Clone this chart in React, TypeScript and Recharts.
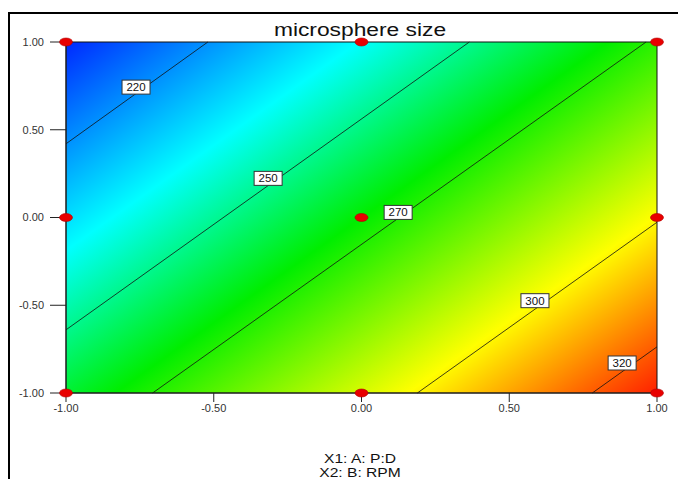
import {
  ComposedChart,
  XAxis,
  YAxis,
  Scatter,
  ReferenceArea,
  ReferenceLine,
  ReferenceDot,
} from "recharts";

// coded factor levels (A: P:D on x, B: RPM on y)
const ticks = [-1, -0.5, 0, 0.5, 1];

// design points of the 3x3 factorial
const designA = [-1, -1, -1, 0, 0, 0, 1, 1, 1];
const designB = [-1, 0, 1, -1, 0, 1, -1, 0, 1];

// contour segments of microsphere size, endpoints in coded units
const contourLevels = [220, 250, 270, 300, 320];
const contourStart = [
  { x: -1, y: 0.42 },
  { x: -1, y: -0.64 },
  { x: -0.707, y: -1 },
  { x: 0.189, y: -1 },
  { x: 0.781, y: -1 },
];
const contourEnd = [
  { x: -0.52, y: 1 },
  { x: 0.365, y: 1 },
  { x: 0.963, y: 1 },
  { x: 1, y: -0.027 },
  { x: 1, y: -0.737 },
];
const labelPos = [
  { x: -0.763, y: 0.743 },
  { x: -0.316, y: 0.223 },
  { x: 0.124, y: 0.029 },
  { x: 0.587, y: -0.474 },
  { x: 0.882, y: -0.829 },
];

// response change across the factor range (size units per coded unit)
const slopeA = 33.6;
const slopeB = -28;

const points = designA.map((a, i) => ({ a, b: designB[i] }));

// gradient vector in bounding-box units so colour bands follow the contours
const du = slopeA * 2;
const dv = -slopeB * 2;
const k = (du + dv) / (du * du + dv * dv);

const fmt = (v: number) => v.toFixed(2);
const FONT = "Arial, Liberation Sans, sans-serif";

const DesignPoint = (props: any) => {
  const { cx, cy } = props;
  if (cx == null || cy == null) return null;
  return <ellipse cx={cx} cy={cy} rx={6.5} ry={4} fill="#e80000" stroke="#b00000" strokeWidth={0.6} />;
};

const makeLabel = (text: string) => (props: any) => {
  const { cx, cy } = props;
  return (
    <g>
      <rect x={cx - 14} y={cy - 7} width={28} height={14} fill="#fff" stroke="#333" strokeWidth={1} />
      <text x={cx} y={cy + 4} textAnchor="middle" fontSize={11.5} fontFamily={FONT} fill="#111">
        {text}
      </text>
    </g>
  );
};

const tickStyle = { fontSize: 11, fill: "#333", fontFamily: FONT };

export default function App() {
  return (
    <div style={{ position: "absolute", left: 0, top: 0, width: 678, height: 479, background: "#fff", overflow: "hidden" }}>
      <div
        style={{
          position: "absolute",
          left: 8,
          top: 12,
          width: 700,
          height: 500,
          borderTop: "2px solid #000",
          borderLeft: "2px solid #000",
          boxSizing: "border-box",
        }}
      />
      <div style={{ position: "absolute", left: 0, top: 0 }}>
        <ComposedChart width={678} height={479} margin={{ top: 42, right: 21, bottom: 56, left: 0 }}>
          <defs>
            <linearGradient id="surf" x1="0" y1="0" x2={du * k} y2={dv * k}>
              <stop offset="0%" stopColor="#0028ff" />
              <stop offset="27%" stopColor="#00ffff" />
              <stop offset="50%" stopColor="#00ee00" />
              <stop offset="77%" stopColor="#ffff00" />
              <stop offset="100%" stopColor="#ff2000" />
            </linearGradient>
          </defs>
          <XAxis
            type="number"
            dataKey="a"
            domain={[-1, 1]}
            ticks={ticks}
            tickFormatter={fmt}
            tick={tickStyle}
            tickSize={9}
            tickLine={{ stroke: "#222" }}
            axisLine={{ stroke: "#222" }}
            height={30}
          />
          <YAxis
            type="number"
            dataKey="b"
            domain={[-1, 1]}
            ticks={ticks}
            tickFormatter={fmt}
            tick={tickStyle}
            tickSize={16}
            tickMargin={6}
            tickLine={{ stroke: "#222" }}
            axisLine={{ stroke: "#222" }}
            width={66}
          />
          <ReferenceArea x1={-1} x2={1} y1={-1} y2={1} fill="url(#surf)" fillOpacity={1} stroke="#111" strokeWidth={1} />
          {contourLevels.map((lvl, i) => (
            <ReferenceLine
              key={`c${lvl}`}
              segment={[contourStart[i], contourEnd[i]]}
              stroke="#111"
              strokeWidth={0.8}
            />
          ))}
          {contourLevels.map((lvl, i) => (
            <ReferenceDot
              key={`l${lvl}`}
              x={labelPos[i].x}
              y={labelPos[i].y}
              shape={makeLabel(String(lvl))}
            />
          ))}
          <Scatter data={points} dataKey="b" shape={DesignPoint} isAnimationActive={false} />
        </ComposedChart>
      </div>
      <svg width={678} height={479} style={{ position: "absolute", left: 0, top: 0, pointerEvents: "none" }}>
        <text transform="translate(360,35.5) scale(1.2,1)" textAnchor="middle" fontSize={19} fontFamily={FONT} fill="#111">
          microsphere size
        </text>
        <text transform="translate(360,462.5) scale(1.25,1)" textAnchor="middle" fontSize={12.5} fontFamily={FONT} fill="#111">
          X1: A: P:D
        </text>
        <text transform="translate(360,477) scale(1.25,1)" textAnchor="middle" fontSize={12.5} fontFamily={FONT} fill="#111">
          X2: B: RPM
        </text>
      </svg>
    </div>
  );
}
